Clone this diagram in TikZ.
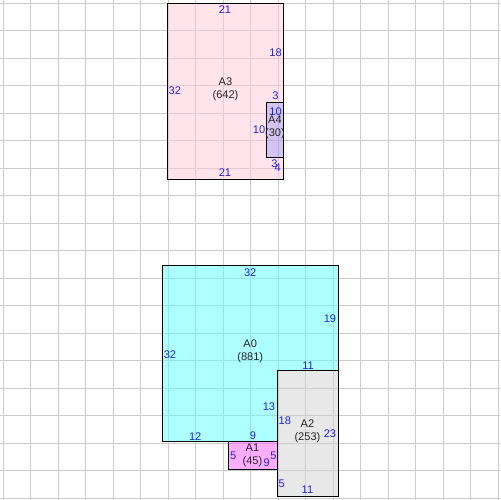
\documentclass[tikz,border=0pt]{standalone}
\usepackage{fontspec}
\setmainfont{Liberation Sans}
\definecolor{dimblue}{HTML}{2424DC}
\definecolor{fillpink}{rgb}{1,0.79,0.85}
\definecolor{filllilac}{rgb}{0.66,0.54,0.91}
\definecolor{fillcyan}{rgb}{0.37,1,1}
\definecolor{fillmagenta}{rgb}{1,0.37,1}
\definecolor{fillgrey}{rgb}{0.82,0.82,0.82}
\begin{document}
\begin{tikzpicture}[x=0.11cm, y=-0.11cm,
    room/.style={draw=black, line width=0.6pt, fill opacity=0.5},
    gridline/.style={draw=black!20, line width=0.55pt},
    dim/.style={text=dimblue, inner sep=0pt, font=\fontsize{6.3}{7}\selectfont},
    roomname/.style={text=black!85, align=center, inner sep=0pt, font=\fontsize{6.3}{7.4}\selectfont}]
\useasboundingbox (-0.6,-0.6) rectangle (90.31,90.31);
\foreach \k in {0,5,...,90} {
    \draw[gridline] (\k,-0.6) -- (\k,90.31);
    \draw[gridline] (-0.6,\k) -- (90.31,\k);
}
% upper block
\begin{scope}[shift={(29.9,0)}]
    \filldraw[room, fill=fillpink] (0,0) -- (21,0) -- (21,18) -- (18,18) -- (18,28) -- (21,28) -- (21,32) -- (0,32) -- cycle;
    \filldraw[room, fill=filllilac] (18,18) rectangle (21,28);
    \node[roomname] (a3) at (10.5,15.6) {A3\\(642)};
    \node[roomname] (a4) at (19.5,22.6) {A4\\(30)};
    \begin{scope}[every node/.style={dim}]
        \node (a3top) at (10.4,1.2) {21};
        \node (a3right) at (19.6,9.0) {18};
        \node (a3left) at (1.3,15.9) {32};
        \node (a3notchtop) at (19.6,16.8) {3};
        \node (a3notchleft) at (16.6,23.0) {10};
        \node (a3notchbottom) at (19.4,29.1) {3};
        \node (a3rightlow) at (20.0,29.8) {4};
        \node (a3bottom) at (10.4,30.7) {21};
        \node (a4top) at (19.6,19.7) {10};
    \end{scope}
\end{scope}
% lower block
\begin{scope}[shift={(28.9,47.7)}]
    \filldraw[room, fill=fillcyan] (0,0) -- (32,0) -- (32,19) -- (21,19) -- (21,32) -- (0,32) -- cycle;
    \filldraw[room, fill=fillmagenta] (12,32) rectangle (21,37);
    \filldraw[room, fill=fillgrey] (21,19) rectangle (32,42);
    \node[roomname] (a0) at (16,15.5) {A0\\(881)};
    \node[roomname] (a1) at (16.4,34.4) {A1\\(45)};
    \node[roomname] (a2) at (26.4,30.1) {A2\\(253)};
    \begin{scope}[every node/.style={dim}]
        \node (a0top) at (16,1.3) {32};
        \node (a0right) at (30.5,9.7) {19};
        \node (a0left) at (1.4,16.2) {32};
        \node (a0step) at (26.5,18.1) {11};
        \node (a0inner) at (19.4,25.7) {13};
        \node (a0bottom) at (6.0,31.0) {12};
        \node (a0bottomr) at (16.5,31.0) {9};
        \node (a1left) at (12.9,34.6) {5};
        \node (a1bottom) at (19.0,35.9) {9};
        \node (a1right) at (20.2,34.6) {5};
        \node (a2left) at (22.3,28.2) {18};
        \node (a2right) at (30.5,30.6) {23};
        \node (a2leftlow) at (21.7,39.6) {5};
        \node (a2bottom) at (26.4,40.8) {11};
    \end{scope}
\end{scope}
\end{tikzpicture}
\end{document}
